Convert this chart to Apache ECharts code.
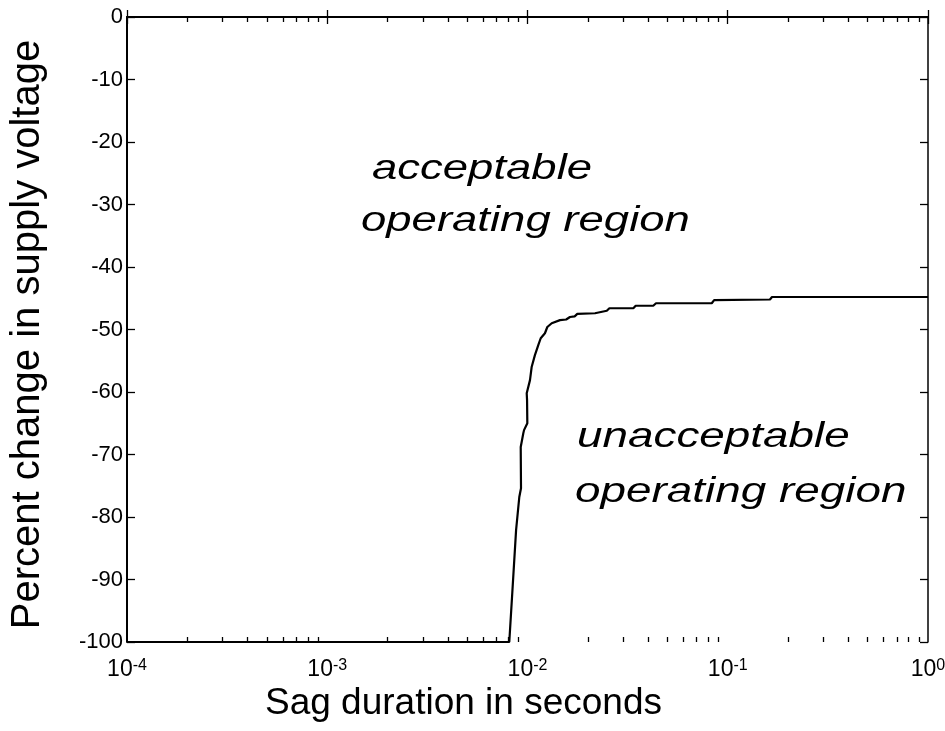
<!DOCTYPE html>
<html>
<head>
<meta charset="utf-8">
<script src="https://cdn.jsdelivr.net/npm/echarts@6/dist/echarts.min.js"></script>
<style>
html,body{margin:0;padding:0;background:#fff;}
#chart{width:945px;height:731px;}
</style>
</head>
<body>
<div id="chart"></div>
<script>
// Sag duration (seconds) and percent change in supply voltage
const sagDuration = [0.0001, 0.00811, 0.00840, 0.00877, 0.00910, 0.00928, 0.00925, 0.00953, 0.00961, 0.00998,
  0.00995, 0.00991, 0.01029, 0.01049, 0.01089, 0.01132, 0.01164, 0.01222, 0.01256, 0.01321,
  0.01453, 0.01560, 0.01630, 0.01720, 0.01773, 0.02173, 0.02218, 0.02489, 0.02564, 0.03377,
  0.03470, 0.04246, 0.04383, 0.0832, 0.0855, 0.1625, 0.1663, 1];
const voltageChange = [-100, -100, -92.0, -82.1, -76.8, -75.4, -68.8, -66.6, -66.1, -65.0,
  -61.3, -60.2, -58.1, -56.0, -54.1, -52.5, -51.4, -50.6, -49.6, -49.0,
  -48.5, -48.4, -48.0, -47.9, -47.5, -47.4, -47.1, -47.0, -46.6, -46.6,
  -46.2, -46.2, -45.8, -45.8, -45.3, -45.2, -44.8, -44.8];

const xDecades = [0.0001, 0.001, 0.01, 0.1, 1];
const yTicks = [0, -10, -20, -30, -40, -50, -60, -70, -80, -90, -100];
const xMinor = [];
for (let d = 0; d < xDecades.length - 1; d++) {
  for (let m = 2; m <= 9; m++) xMinor.push(m * xDecades[d]);
}

const FONT = "'Liberation Sans', Arial, Helvetica, sans-serif";
const data = sagDuration.map((x, i) => [x, voltageChange[i]]);

function xAxisBase(pos, extra) {
  return Object.assign({
    type: 'log', logBase: 10, min: 0.0001, max: 1, position: pos,
    splitLine: { show: false }, minorTick: { show: false }, minorSplitLine: { show: false }
  }, extra);
}

const chart = echarts.init(document.getElementById('chart'), null, { renderer: 'canvas' });
chart.setOption({
  backgroundColor: '#ffffff',
  animation: false,
  grid: { left: 127, right: 17, top: 17, bottom: 89, containLabel: false, outerBoundsMode: 'none' },
  xAxis: [
    xAxisBase('bottom', {
      name: 'Sag duration in seconds', nameLocation: 'middle', nameGap: 43, nameMoveOverlap: false,
      nameTextStyle: { fontFamily: FONT, fontSize: 37, color: '#000', padding: [0, 128, 0, 0] },
      axisLine: { show: true, lineStyle: { color: '#000', width: 2 } },
      axisTick: { show: true, inside: true, length: 7, customValues: xDecades, lineStyle: { color: '#000', width: 1.3 } },
      axisLabel: {
        show: true, margin: 16, customValues: xDecades,
        formatter: function (v) {
          const e = Math.round(Math.log10(v));
          return '{b|10}{e|' + e + '}';
        },
        rich: {
          b: { fontFamily: FONT, fontSize: 23, lineHeight: 23, color: '#000', verticalAlign: 'bottom' },
          e: { fontFamily: FONT, fontSize: 16, lineHeight: 16, color: '#000', verticalAlign: 'top', padding: [0, 0, 18, 0] }
        }
      }
    }),
    xAxisBase('top', {
      axisLine: { show: true, lineStyle: { color: '#000', width: 1.6 } },
      axisTick: { show: true, inside: true, length: 7, customValues: xDecades, lineStyle: { color: '#000', width: 1.3 } },
      axisLabel: { show: false }
    }),
    xAxisBase('bottom', {
      axisLine: { show: false },
      axisTick: { show: true, inside: true, length: 5, customValues: xMinor, lineStyle: { color: '#000', width: 1.3 } },
      axisLabel: { show: false }
    }),
    xAxisBase('top', {
      axisLine: { show: false },
      axisTick: { show: true, inside: true, length: 5, customValues: xMinor, lineStyle: { color: '#000', width: 1.3 } },
      axisLabel: { show: false }
    })
  ],
  yAxis: [
    {
      type: 'value', min: -100, max: 0, interval: 10, position: 'left',
      name: 'Percent change in supply voltage', nameLocation: 'middle', nameGap: 79,
      nameTextStyle: { fontFamily: FONT, fontSize: 40, color: '#000', padding: [0, 10, 0, 0] },
      splitLine: { show: false },
      axisLine: { show: true, lineStyle: { color: '#000', width: 2 } },
      axisTick: { show: true, inside: true, length: 8, customValues: yTicks, lineStyle: { color: '#000', width: 1.3 } },
      axisLabel: { show: true, margin: 4, customValues: yTicks, fontFamily: FONT, fontSize: 22, color: '#000' }
    },
    {
      type: 'value', min: -100, max: 0, interval: 10, position: 'right',
      splitLine: { show: false },
      axisLine: { show: true, lineStyle: { color: '#000', width: 1.5 } },
      axisTick: { show: true, inside: true, length: 8, customValues: yTicks, lineStyle: { color: '#000', width: 1.3 } },
      axisLabel: { show: false }
    }
  ],
  series: [{
    type: 'line', xAxisIndex: 0, yAxisIndex: 0, data: data,
    showSymbol: false, symbol: 'none', smooth: false,
    lineStyle: { color: '#000', width: 2.2 }
  }],
  graphic: [
    { type: 'text', x: 372, y: 169, scaleX: 1.3, silent: true,
      style: { text: 'acceptable', font: 'italic 35px ' + FONT, fill: '#000', textAlign: 'left', align: 'left', textVerticalAlign: 'middle', verticalAlign: 'middle' } },
    { type: 'text', x: 361, y: 221, scaleX: 1.3, silent: true,
      style: { text: 'operating region', font: 'italic 35px ' + FONT, fill: '#000', textAlign: 'left', align: 'left', textVerticalAlign: 'middle', verticalAlign: 'middle' } },
    { type: 'text', x: 577, y: 437, scaleX: 1.31, silent: true,
      style: { text: 'unacceptable', font: 'italic 35px ' + FONT, fill: '#000', textAlign: 'left', align: 'left', textVerticalAlign: 'middle', verticalAlign: 'middle' } },
    { type: 'text', x: 575, y: 492, scaleX: 1.31, silent: true,
      style: { text: 'operating region', font: 'italic 35px ' + FONT, fill: '#000', textAlign: 'left', align: 'left', textVerticalAlign: 'middle', verticalAlign: 'middle' } }
  ]
});
</script>
</body>
</html>
